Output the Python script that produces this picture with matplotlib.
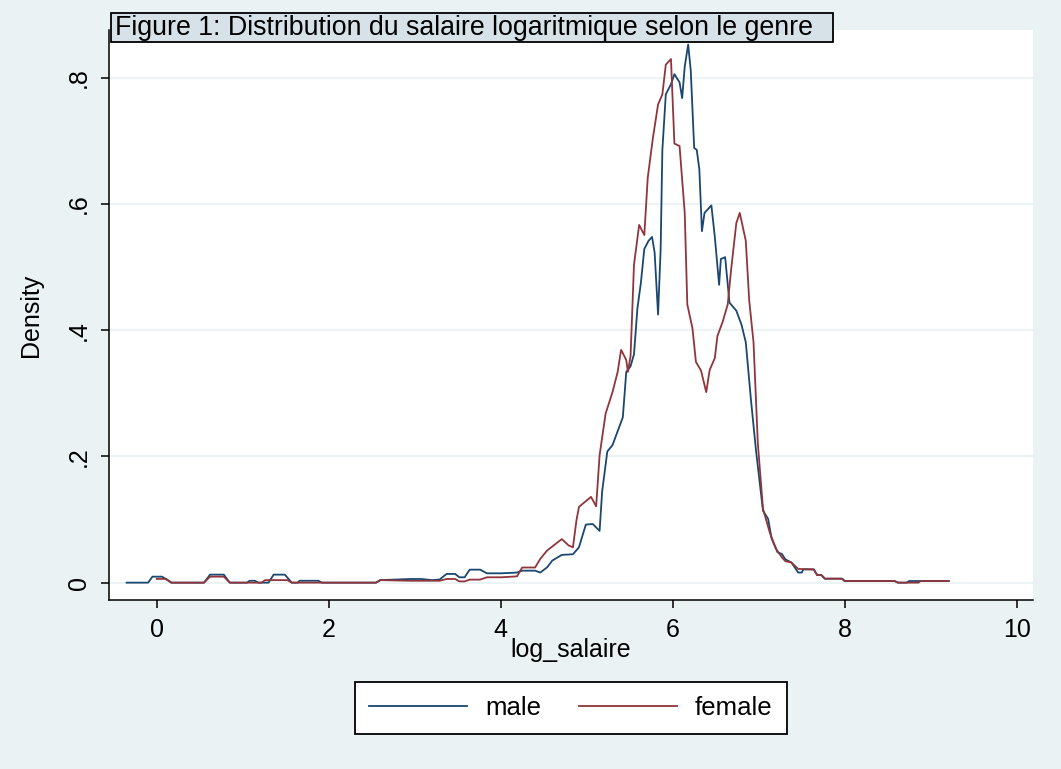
import matplotlib.pyplot as plt
from matplotlib.patches import Rectangle

# kernel density of log wage
male_x = [-0.35, -0.10, -0.05, 0.06, 0.12, 0.17, 0.55, 0.62, 0.78, 0.85, 1.05, 1.08, 1.14, 1.18,
          1.30, 1.36, 1.49, 1.57, 1.64, 1.66, 1.88, 1.92, 2.55, 2.60, 2.95, 3.08, 3.20, 3.29,
          3.37, 3.47, 3.52, 3.58, 3.64, 3.76, 3.84, 4.01, 4.19, 4.25, 4.35, 4.40, 4.46, 4.54,
          4.60, 4.71, 4.84, 4.91, 4.99, 5.07, 5.15, 5.18, 5.24, 5.30, 5.36, 5.42, 5.46, 5.51,
          5.55, 5.59, 5.63, 5.67, 5.72, 5.76, 5.79, 5.83, 5.86, 5.88, 5.92, 5.98, 6.02, 6.08,
          6.11, 6.14, 6.18, 6.21, 6.25, 6.28, 6.31, 6.34, 6.37, 6.41, 6.45, 6.49, 6.54, 6.56,
          6.61, 6.66, 6.74, 6.80, 6.85, 6.91, 6.97, 7.05, 7.11, 7.15, 7.22, 7.27, 7.31, 7.38,
          7.46, 7.50, 7.52, 7.64, 7.68, 7.73, 7.77, 7.97, 8.00, 8.58, 8.62, 8.72, 8.75, 9.21]
male_y = [0, 0, 0.0095, 0.0095, 0.005, 0, 0, 0.0127, 0.0127, 0, 0, 0.003, 0.003, 0,
          0, 0.0127, 0.0127, 0, 0, 0.003, 0.003, 0, 0, 0.004, 0.0058, 0.0058, 0.004, 0.005,
          0.0138, 0.0138, 0.0085, 0.0085, 0.0206, 0.0206, 0.0148, 0.0148, 0.016, 0.019, 0.019, 0.019, 0.016, 0.0243,
          0.035, 0.044, 0.045, 0.056, 0.092, 0.093, 0.082, 0.145, 0.208, 0.218, 0.240, 0.262, 0.334, 0.343,
          0.362, 0.435, 0.475, 0.529, 0.542, 0.548, 0.523, 0.425, 0.529, 0.686, 0.774, 0.790, 0.806, 0.793,
          0.768, 0.818, 0.853, 0.812, 0.689, 0.686, 0.655, 0.557, 0.586, 0.592, 0.598, 0.548, 0.472, 0.513,
          0.516, 0.444, 0.431, 0.409, 0.381, 0.290, 0.208, 0.114, 0.101, 0.070, 0.048, 0.0455, 0.037, 0.032,
          0.016, 0.016, 0.021, 0.021, 0.012, 0.012, 0.0063, 0.0063, 0.0026, 0.0026, 0, 0, 0.0026, 0.0026]

female_x = [0.0, 0.10, 0.17, 0.55, 0.62, 0.78, 0.85, 1.22, 1.26, 1.52, 1.57, 2.55, 2.60, 2.95,
            3.08, 3.29, 3.37, 3.47, 3.52, 3.58, 3.64, 3.76, 3.84, 4.01, 4.19, 4.25, 4.35, 4.40,
            4.46, 4.54, 4.71, 4.79, 4.84, 4.88, 4.91, 5.05, 5.11, 5.15, 5.22, 5.30, 5.36, 5.40,
            5.46, 5.48, 5.51, 5.55, 5.61, 5.67, 5.71, 5.77, 5.83, 5.88, 5.92, 5.98, 6.02, 6.08,
            6.14, 6.17, 6.23, 6.27, 6.33, 6.39, 6.43, 6.49, 6.52, 6.58, 6.64, 6.68, 6.74, 6.78,
            6.85, 6.89, 6.94, 6.99, 7.05, 7.13, 7.20, 7.27, 7.31, 7.38, 7.46, 7.64, 7.68, 7.73,
            7.77, 7.97, 8.00, 8.58, 8.62, 8.86, 8.88, 9.21]
female_y = [0.006, 0.006, 0, 0, 0.0095, 0.0095, 0, 0, 0.004, 0.004, 0, 0, 0.004, 0.003,
            0.003, 0.003, 0.0058, 0.0058, 0.002, 0.002, 0.0048, 0.0048, 0.0085, 0.0085, 0.010, 0.024, 0.024, 0.024,
            0.0376, 0.051, 0.069, 0.059, 0.056, 0.098, 0.120, 0.136, 0.121, 0.202, 0.268, 0.302, 0.334, 0.369,
            0.353, 0.334, 0.359, 0.504, 0.567, 0.551, 0.642, 0.705, 0.758, 0.774, 0.821, 0.830, 0.696, 0.692,
            0.586, 0.441, 0.403, 0.350, 0.336, 0.302, 0.337, 0.356, 0.391, 0.413, 0.441, 0.497, 0.570, 0.586,
            0.542, 0.447, 0.381, 0.221, 0.117, 0.079, 0.054, 0.040, 0.034, 0.032, 0.0217, 0.021, 0.012, 0.012,
            0.0063, 0.0063, 0.0026, 0.0026, 0, 0, 0.0026, 0.0026]

x_ticks = [0, 2, 4, 6, 8, 10]
y_ticks = [0, 0.2, 0.4, 0.6, 0.8]
y_labels = ['0', '.2', '.4', '.6', '.8']

plt.rcParams['font.family'] = ['Liberation Sans', 'DejaVu Sans']

bg = '#EAF2F3'
fig = plt.figure(figsize=(10.61, 7.69), dpi=100, facecolor=bg)
ax = fig.add_axes([109 / 1061, 169 / 769, 924 / 1061, 570 / 769])
ax.set_facecolor('white')

for y in y_ticks:
    ax.axhline(y, color=bg, lw=1.3, zorder=0)

ax.plot(male_x, male_y, color='#1A476F', lw=1.3, label='male')
ax.plot(female_x, female_y, color='#90353B', lw=1.3, label='female')

ax.set_xlim(-0.555, 10.19)
ax.set_ylim(-0.0275, 0.876)
ax.set_xticks(x_ticks)
ax.set_yticks(y_ticks, y_labels)
plt.setp(ax.get_yticklabels(), rotation=90, va='center')
ax.tick_params(direction='out', length=6, width=1.1, labelsize=18, pad=7)

for s in ['top', 'right']:
    ax.spines[s].set_visible(False)
for s in ['left', 'bottom']:
    ax.spines[s].set_linewidth(1.1)

ax.set_xlabel('log_salaire', fontsize=18)
ax.xaxis.set_label_coords(0.5, -0.066)
ax.set_ylabel('Density', fontsize=18)
ax.yaxis.set_label_coords(-0.084, 0.5)
ax.yaxis.label.set_va('center')

# title box
fig.patches.append(Rectangle((111 / 1061, 1 - 42 / 769), 722 / 1061, 29 / 769,
                             transform=fig.transFigure, facecolor='#D6E2E8',
                             edgecolor='black', lw=1.3, zorder=5))
fig.text(115 / 1061, 1 - 28 / 769, 'Figure 1: Distribution du salaire logaritmique selon le genre',
         fontsize=19.3, va='center', ha='left', zorder=6)

leg = fig.legend(loc='center', bbox_to_anchor=(571 / 1061, 1 - 708 / 769), ncol=2,
                 fontsize=18.5, handlelength=3.8, handletextpad=0.7, columnspacing=1.5,
                 borderpad=0.55, fancybox=False, edgecolor='black', framealpha=1)
leg.get_frame().set_linewidth(1.3)

plt.savefig('out.png', dpi=100, facecolor=bg)
